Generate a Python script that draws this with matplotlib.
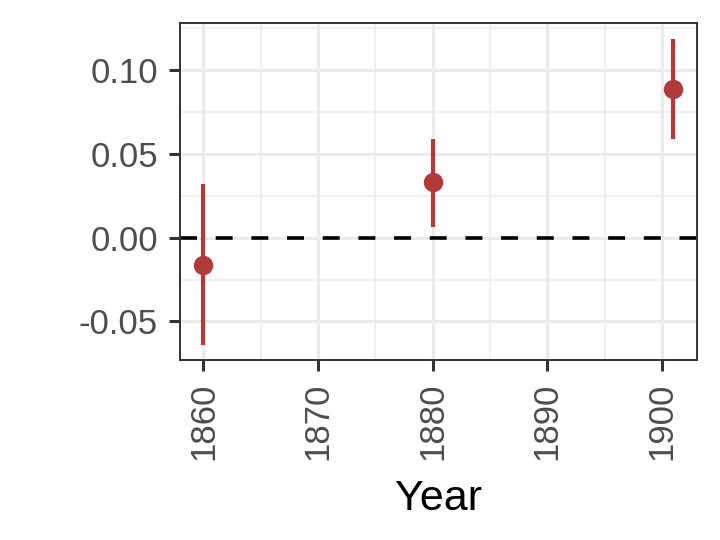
import matplotlib
matplotlib.use('Agg')
import matplotlib.pyplot as plt
from matplotlib.ticker import MultipleLocator, FormatStrFormatter

plt.rcParams['font.family'] = ['Liberation Sans', 'DejaVu Sans']

# estimates with confidence interval
years = [1860, 1880, 1901]
estimate = [-0.016, 0.033, 0.089]
lower = [-0.064, 0.0065, 0.059]
upper = [0.032, 0.059, 0.119]

POINT_COLOR = '#B2393C'
GRID_COLOR = '#EBEBEB'
DARK = '#333333'
TEXT = '#4D4D4D'

fig = plt.figure(figsize=(7.2, 5.4), dpi=100, facecolor='white')
ax = fig.add_axes([0.25, 0.333, 0.718, 0.624])

ax.axhline(0, color='black', lw=2.6, ls=(0, (4.7, 5.18)), zorder=2)
ax.vlines(years, lower, upper, color=POINT_COLOR, lw=3.0, zorder=3)
ax.plot(years, estimate, 'o', color=POINT_COLOR, ms=14, mew=0, zorder=4)

# ggplot-style 5% expansion
xr = max(years) - min(years)
ax.set_xlim(min(years) - 0.05 * xr, max(years) + 0.05 * xr)
yr = max(upper) - min(lower)
ax.set_ylim(min(lower) - 0.05 * yr, max(upper) + 0.05 * yr)

ax.xaxis.set_major_locator(MultipleLocator(10))
ax.xaxis.set_minor_locator(MultipleLocator(5))
ax.yaxis.set_major_locator(MultipleLocator(0.05))
ax.yaxis.set_minor_locator(MultipleLocator(0.025))
ax.yaxis.set_major_formatter(FormatStrFormatter('%.2f'))

ax.grid(which='major', color=GRID_COLOR, lw=2.2, zorder=0)
ax.grid(which='minor', color=GRID_COLOR, lw=1.1, zorder=0)
ax.set_axisbelow(True)

ax.tick_params(which='major', length=8, width=2.2, color=DARK,
               labelsize=25, labelcolor=TEXT, pad=8)
ax.tick_params(which='minor', length=0)
ax.tick_params(axis='x', labelrotation=90)

for s in ax.spines.values():
    s.set_color(DARK)
    s.set_linewidth(1.4)

ax.set_xlabel('Year', fontsize=31, color='black', labelpad=14)

fig.savefig('out.png', dpi=100, facecolor='white')
